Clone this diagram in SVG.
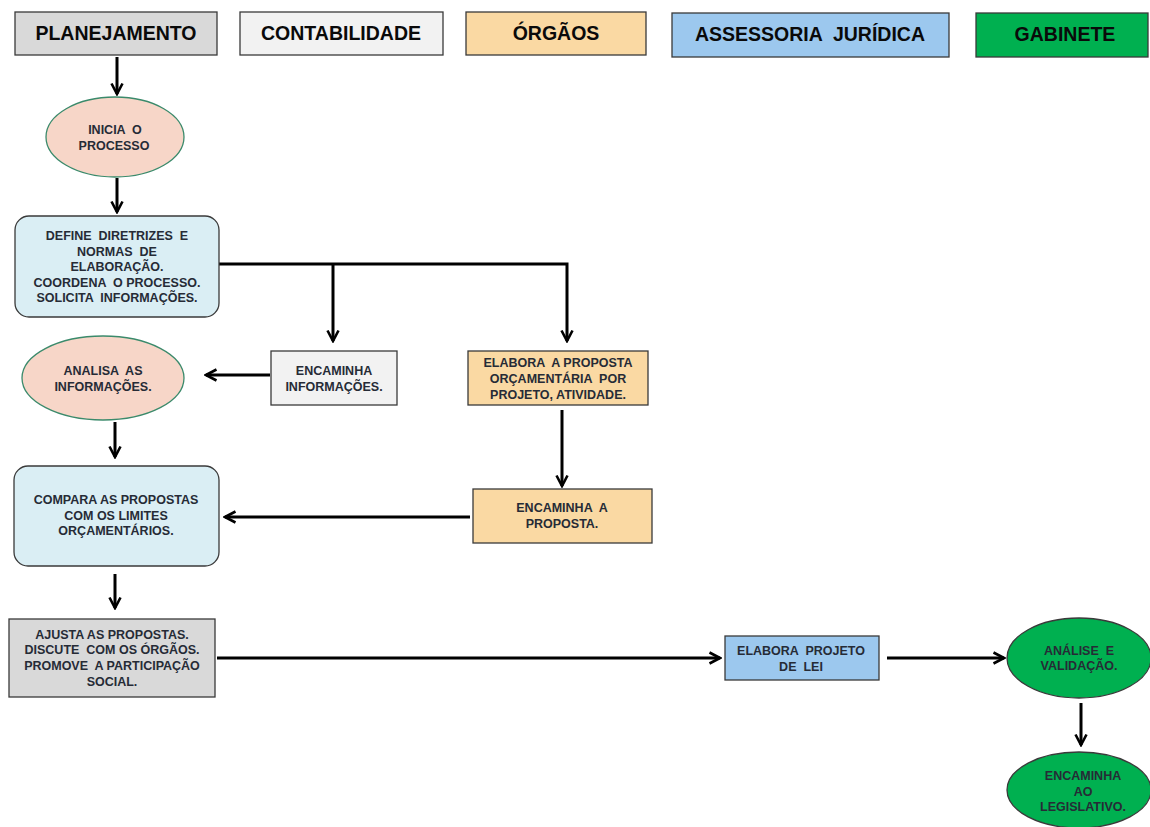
<svg xmlns="http://www.w3.org/2000/svg" width="1150" height="827" viewBox="0 0 1150 827">
<defs>
<marker id="arr" viewBox="0 0 14 14" refX="12" refY="7" markerWidth="14" markerHeight="14" markerUnits="userSpaceOnUse" orient="auto">
<path d="M1.5,1.5 L12,7 L1.5,12.5" fill="none" stroke="#000" stroke-width="2.6" stroke-linejoin="miter"/>
</marker>
</defs>
<style>
.hdr{font-family:"Liberation Sans",Arial,sans-serif;font-weight:bold;font-size:19.5px;fill:#0a0a0a;text-anchor:middle}
.t{font-family:"Liberation Sans Narrow","Liberation Sans",Arial,sans-serif;font-weight:bold;font-size:12.5px;fill:#262b36;text-anchor:middle;white-space:pre}
.box{stroke:#3a3a3a;stroke-width:1.3}
.con{fill:none;stroke:#000;stroke-width:3}
.ell{stroke:#3b8a6b;stroke-width:1.3}
</style>
<rect width="1150" height="827" fill="#fff"/>

<g id="h-planejamento"><rect class="box" x="15" y="12" width="202" height="43" fill="#d9d9d9"/><text class="hdr" x="116" y="40">PLANEJAMENTO</text></g>
<g id="h-contabilidade"><rect class="box" x="240" y="12" width="203" height="43" fill="#f2f2f2"/><text class="hdr" x="341" y="40">CONTABILIDADE</text></g>
<g id="h-orgaos"><rect class="box" x="466" y="12" width="180" height="43" fill="#fad9a3"/><text class="hdr" x="556" y="40">ÓRGÃOS</text></g>
<g id="h-assessoria"><rect class="box" x="672" y="13" width="277" height="44" fill="#9cc8ee"/><text class="hdr" x="810" y="41" xml:space="preserve">ASSESSORIA  JURÍDICA</text></g>
<g id="h-gabinete"><rect class="box" x="976" y="13" width="172" height="44" fill="#00b050"/><text class="hdr" x="1065" y="41">GABINETE</text></g>

<g id="connectors">
<line class="con" x1="117" y1="57" x2="117" y2="94" marker-end="url(#arr)"/>
<line class="con" x1="117" y1="178" x2="117" y2="212" marker-end="url(#arr)"/>
<polyline class="con" points="219,264 567,264 567,341" marker-end="url(#arr)"/>
<line class="con" x1="333" y1="264" x2="333" y2="341" marker-end="url(#arr)"/>
<line class="con" x1="270" y1="375" x2="206" y2="375" marker-end="url(#arr)"/>
<line class="con" x1="115" y1="422" x2="115" y2="457" marker-end="url(#arr)"/>
<line class="con" x1="562" y1="410" x2="562" y2="486" marker-end="url(#arr)"/>
<line class="con" x1="470" y1="517" x2="225" y2="517" marker-end="url(#arr)"/>
<line class="con" x1="115" y1="574" x2="115" y2="608" marker-end="url(#arr)"/>
<line class="con" x1="217" y1="658" x2="720" y2="658" marker-end="url(#arr)"/>
<line class="con" x1="887" y1="658" x2="1004" y2="658" marker-end="url(#arr)"/>
<line class="con" x1="1081" y1="703" x2="1081" y2="745" marker-end="url(#arr)"/>
</g>

<g id="n-inicia"><ellipse class="ell" cx="115" cy="137" rx="69" ry="40" fill="#f7d6c8"/><text class="t" x="115" y="134" xml:space="preserve">INICIA  O</text><text class="t" x="114" y="150">PROCESSO</text></g>

<g id="n-define"><rect class="box" x="15" y="216" width="204" height="101" rx="14" fill="#daeef4"/>
<text class="t" x="117" y="240" xml:space="preserve">DEFINE  DIRETRIZES  E</text>
<text class="t" x="117" y="256" xml:space="preserve">NORMAS  DE</text>
<text class="t" x="117" y="271">ELABORAÇÃO.</text>
<text class="t" x="117" y="287" xml:space="preserve">COORDENA  O PROCESSO.</text>
<text class="t" x="117" y="302" xml:space="preserve">SOLICITA  INFORMAÇÕES.</text></g>

<g id="n-analisa"><ellipse class="ell" cx="103" cy="378" rx="81" ry="42" fill="#f7d6c8"/><text class="t" x="103" y="375" xml:space="preserve">ANALISA  AS</text><text class="t" x="103" y="391">INFORMAÇÕES.</text></g>

<g id="n-enc-info"><rect class="box" x="271" y="351" width="126" height="54" fill="#f2f2f2"/><text class="t" x="334" y="375">ENCAMINHA</text><text class="t" x="334" y="391">INFORMAÇÕES.</text></g>

<g id="n-elabora"><rect class="box" x="468" y="351" width="180" height="54" fill="#fad9a3"/><text class="t" x="558" y="367" xml:space="preserve">ELABORA  A PROPOSTA</text><text class="t" x="558" y="383" xml:space="preserve">ORÇAMENTÁRIA  POR</text><text class="t" x="558" y="399">PROJETO, ATIVIDADE.</text></g>

<g id="n-enc-prop"><rect class="box" x="473" y="489" width="179" height="54" fill="#fad9a3"/><text class="t" x="562" y="512" xml:space="preserve">ENCAMINHA  A</text><text class="t" x="562" y="528">PROPOSTA.</text></g>

<g id="n-compara"><rect class="box" x="14" y="466" width="205" height="100" rx="14" fill="#daeef4"/><text class="t" x="116" y="504">COMPARA AS PROPOSTAS</text><text class="t" x="116" y="520">COM OS LIMITES</text><text class="t" x="116" y="535">ORÇAMENTÁRIOS.</text></g>

<g id="n-ajusta"><rect class="box" x="9" y="619" width="206" height="78" fill="#d9d9d9"/><text class="t" x="112" y="639">AJUSTA AS PROPOSTAS.</text><text class="t" x="112" y="654" xml:space="preserve">DISCUTE  COM OS ÓRGÃOS.</text><text class="t" x="112" y="670" xml:space="preserve">PROMOVE  A PARTICIPAÇÃO</text><text class="t" x="112" y="686">SOCIAL.</text></g>

<g id="n-projeto"><rect class="box" x="725" y="636" width="154" height="44" fill="#9cc8ee"/><text class="t" x="801" y="655" xml:space="preserve">ELABORA  PROJETO</text><text class="t" x="801" y="671" xml:space="preserve">DE  LEI</text></g>

<g id="n-analise"><ellipse class="box" cx="1079" cy="658" rx="72" ry="40" fill="#00b050"/><text class="t" x="1079" y="655" xml:space="preserve">ANÁLISE  E</text><text class="t" x="1079" y="670">VALIDAÇÃO.</text></g>

<g id="n-legislativo"><ellipse class="box" cx="1079" cy="790" rx="72" ry="38" fill="#00b050"/><text class="t" x="1083" y="780">ENCAMINHA</text><text class="t" x="1083" y="796">AO</text><text class="t" x="1083" y="811">LEGISLATIVO.</text></g>
</svg>
